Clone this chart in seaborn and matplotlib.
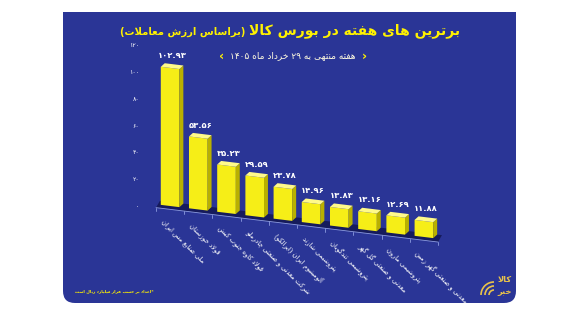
import re
import numpy as np
import pandas as pd
import matplotlib
matplotlib.use("Agg")
import matplotlib.pyplot as plt
import seaborn as sns
from matplotlib.patches import Polygon, FancyBboxPatch, Rectangle, Arc
from matplotlib.transforms import Affine2D, IdentityTransform
from matplotlib.lines import Line2D

# ---------------- data ----------------
companies = [
    "ملی صنایع مس ایران",
    "فولاد خوزستان",
    "فولاد کاوه جنوب کیش",
    "شرکت معدنی و صنعتی چادرملو",
    "آلومینیوم ایران (ایرالکو)",
    "پتروشیمی شازند",
    "پتروشیمی تندگویان",
    "معدنی و صنعتی گل گهر",
    "پتروشیمی مارون",
    "معدنی و صنعتی گهر زمین",
]
values = [102.93, 53.56, 35.23, 29.59, 23.78, 14.96, 13.83, 13.16, 12.69, 11.88]
y_ticks = [0, 20, 40, 60, 80, 100, 120]
title_main = "برترین های هفته در بورس کالا"
title_sub = "(براساس ارزش معاملات)"
subtitle = "هفته منتهی به ۲۹ خرداد ماه ۱۴۰۵"
footnote = "*اعداد بر حسب هزار میلیارد ریال است"
logo_top = "کالا"
logo_bottom = "خبر"

# ---------------- simple Arabic/Persian shaping for display ----------------
def _f(*cps):
    return tuple(chr(c) for c in cps)

FORMS = {
    'ا': _f(0xFE8D, 0xFE8E, 0xFE8D, 0xFE8E),
    'آ': _f(0xFE81, 0xFE82, 0xFE81, 0xFE82),
    'ب': _f(0xFE8F, 0xFE90, 0xFE91, 0xFE92),
    'پ': _f(0xFB56, 0xFB57, 0xFB58, 0xFB59),
    'ت': _f(0xFE95, 0xFE96, 0xFE97, 0xFE98),
    'ث': _f(0xFE99, 0xFE9A, 0xFE9B, 0xFE9C),
    'ج': _f(0xFE9D, 0xFE9E, 0xFE9F, 0xFEA0),
    'چ': _f(0xFB7A, 0xFB7B, 0xFB7C, 0xFB7D),
    'ح': _f(0xFEA1, 0xFEA2, 0xFEA3, 0xFEA4),
    'خ': _f(0xFEA5, 0xFEA6, 0xFEA7, 0xFEA8),
    'د': _f(0xFEA9, 0xFEAA, 0xFEA9, 0xFEAA),
    'ذ': _f(0xFEAB, 0xFEAC, 0xFEAB, 0xFEAC),
    'ر': _f(0xFEAD, 0xFEAE, 0xFEAD, 0xFEAE),
    'ز': _f(0xFEAF, 0xFEB0, 0xFEAF, 0xFEB0),
    'ژ': _f(0xFB8A, 0xFB8B, 0xFB8A, 0xFB8B),
    'س': _f(0xFEB1, 0xFEB2, 0xFEB3, 0xFEB4),
    'ش': _f(0xFEB5, 0xFEB6, 0xFEB7, 0xFEB8),
    'ص': _f(0xFEB9, 0xFEBA, 0xFEBB, 0xFEBC),
    'ض': _f(0xFEBD, 0xFEBE, 0xFEBF, 0xFEC0),
    'ط': _f(0xFEC1, 0xFEC2, 0xFEC3, 0xFEC4),
    'ظ': _f(0xFEC5, 0xFEC6, 0xFEC7, 0xFEC8),
    'ع': _f(0xFEC9, 0xFECA, 0xFECB, 0xFECC),
    'غ': _f(0xFECD, 0xFECE, 0xFECF, 0xFED0),
    'ف': _f(0xFED1, 0xFED2, 0xFED3, 0xFED4),
    'ق': _f(0xFED5, 0xFED6, 0xFED7, 0xFED8),
    'ک': _f(0xFB8E, 0xFB8F, 0xFB90, 0xFB91),
    'گ': _f(0xFB92, 0xFB93, 0xFB94, 0xFB95),
    'ل': _f(0xFEDD, 0xFEDE, 0xFEDF, 0xFEE0),
    'م': _f(0xFEE1, 0xFEE2, 0xFEE3, 0xFEE4),
    'ن': _f(0xFEE5, 0xFEE6, 0xFEE7, 0xFEE8),
    'و': _f(0xFEED, 0xFEEE, 0xFEED, 0xFEEE),
    'ه': _f(0xFEE9, 0xFEEA, 0xFEEB, 0xFEEC),
    'ی': _f(0xFBFC, 0xFBFD, 0xFBFE, 0xFBFF),
}
RIGHT_ONLY = set('اآدذرزژو')
LAM_ALEF = {'ا': (chr(0xFEFB), chr(0xFEFC)), 'آ': (chr(0xFEF5), chr(0xFEF6))}


def shape(text):
    chars = list(text)
    n = len(chars)
    res = []
    i = 0
    while i < n:
        c = chars[i]
        if c not in FORMS:
            res.append(c)
            i += 1
            continue
        prev = chars[i - 1] if i > 0 else None
        cp = prev is not None and prev in FORMS and prev not in RIGHT_ONLY
        if c == 'ل' and i + 1 < n and chars[i + 1] in LAM_ALEF:
            iso, fin = LAM_ALEF[chars[i + 1]]
            res.append(fin if cp else iso)
            i += 2
            continue
        nxt = chars[i + 1] if i + 1 < n else None
        cn = c not in RIGHT_ONLY and nxt is not None and nxt in FORMS
        iso, fin, ini, med = FORMS[c]
        if cp and cn:
            res.append(med)
        elif cp:
            res.append(fin)
        elif cn:
            res.append(ini)
        else:
            res.append(iso)
        i += 1
    s = ''.join(res)[::-1]
    s = s.translate(str.maketrans('()', ')('))
    s = re.sub(r'[0-9\u06F0-\u06F9.]+', lambda m: m.group(0)[::-1], s)
    return s


FA_DIG = str.maketrans('0123456789', '۰۱۲۳۴۵۶۷۸۹')


def fa(num, fmt):
    return format(num, fmt).translate(FA_DIG)

# ---------------- figure ----------------
W, H = 586, 309
sns.set_theme(style="white")
plt.rcParams['font.family'] = ['DejaVu Sans']
fig = plt.figure(figsize=(W / 100, H / 100), dpi=100)
fig.patch.set_facecolor('white')

BLUE = '#2A3596'
YELLOW = '#FFF200'
FRONT = '#F6EE17'
SIDE = '#B9B000'
TOP = '#FFFA8A'

# panel (square top corners, rounded bottom corners)
px0, px1, py0, py1 = 63, 516, 6, 297  # pixel coords, y from bottom
fig.patches.append(FancyBboxPatch((px0, py0), px1 - px0, py1 - py0,
                                  boxstyle="round,pad=0,rounding_size=12",
                                  transform=IdentityTransform(), facecolor=BLUE,
                                  edgecolor='none', zorder=-2))
fig.patches.append(Rectangle((px0, py0 + 40), px1 - px0, py1 - py0 - 40,
                             transform=IdentityTransform(), facecolor=BLUE,
                             edgecolor='none', zorder=-2))

ax = fig.add_axes([156 / W, 103 / H, 282 / W, 161 / H])
ax.patch.set_alpha(0)

df = pd.DataFrame({'company': companies, 'value': values})
sns.barplot(data=df, x='company', y='value', ax=ax, color=FRONT, saturation=1,
            width=0.66, errorbar=None, zorder=3)
ax.set_xlim(-0.5, len(companies) - 0.5)
ax.set_ylim(0, 120)
for s in ax.spines.values():
    s.set_visible(False)
ax.set_xticks([])
ax.set_xlabel('')
ax.set_ylabel('')
ax.set_yticks(y_ticks)
ax.set_yticklabels([fa(t, 'd') for t in y_ticks])
ax.tick_params(axis='y', colors='white', labelsize=4.5, length=0, pad=12)
ax.grid(False)

# perspective-like slant of the floor
pivot = ax.transData.transform((0, 0))[0]
slant = Affine2D().translate(-pivot, 0).skew(0, -np.arctan(0.122)).translate(pivot, 0)
tr = ax.transData + slant

dx, dy = 0.14, 3.0
n = len(companies)
bars = list(ax.patches)
# floor
floor = Polygon([(-0.5, -2.5), (n - 0.5, -2.5), (n - 0.5 + dx, dy), (-0.5 + dx, dy)],
                closed=True, transform=tr, facecolor='#161B5C', edgecolor='none',
                zorder=1, clip_on=False)
ax.add_patch(floor)
ax.add_line(Line2D([-0.5, n - 0.5], [-2.5, -2.5], transform=tr, color='#8C9BE0',
                   lw=0.6, zorder=2, clip_on=False))
for k in range(n + 1):
    ax.add_line(Line2D([k - 0.5, k - 0.5], [-2.5, -5.0], transform=tr,
                       color='#8C9BE0', lw=0.6, zorder=2, clip_on=False))

for p in bars:
    x0 = p.get_x()
    w = p.get_width()
    h = p.get_height()
    x1 = x0 + w
    p.set_transform(tr)
    p.set_clip_on(False)
    p.set_edgecolor('none')
    side = Polygon([(x1, 0), (x1, h), (x1 + dx, h + dy), (x1 + dx, dy)], closed=True,
                   transform=tr, facecolor=SIDE, edgecolor='none', zorder=3,
                   clip_on=False)
    top = Polygon([(x0, h), (x1, h), (x1 + dx, h + dy), (x0 + dx, h + dy)], closed=True,
                  transform=tr, facecolor=TOP, edgecolor='none', zorder=3,
                  clip_on=False)
    ax.add_patch(side)
    ax.add_patch(top)

for i, v in enumerate(values):
    ax.annotate(fa(v, '.2f'), xy=(i + dx / 2, v + dy), xycoords=tr,
                xytext=(0, 3), textcoords='offset points', ha='center', va='bottom',
                color='white', fontsize=6, fontweight='bold', annotation_clip=False)
    ax.annotate(shape(companies[i]), xy=(i - 0.2, -2.5), xycoords=tr,
                xytext=(0, -7), textcoords='offset points', ha='left', va='top',
                rotation=-45, rotation_mode='anchor', color='white', fontsize=4.8,
                annotation_clip=False)

# titles
renderer = fig.canvas.get_renderer()
t1 = fig.text(0, 1 - 31 / H, shape(title_main), color=YELLOW, fontsize=10,
              fontweight='bold', ha='left', va='center')
t2 = fig.text(0, 1 - 32 / H, shape(title_sub), color=YELLOW, fontsize=7.2,
              fontweight='bold', ha='left', va='center')
w1 = t1.get_window_extent(renderer).width
w2 = t2.get_window_extent(renderer).width
gap = 3
left = 290 - (w1 + w2 + gap) / 2
t2.set_x(left / W)
t1.set_x((left + w2 + gap) / W)

fig.text(293 / W, 1 - 56 / H, shape(subtitle), color='#FFFBE0', fontsize=6.5,
         ha='center', va='center')
fig.text(364 / W, 1 - 56 / H, '›', color=YELLOW, fontsize=9, fontweight='bold',
         ha='center', va='center')
fig.text(222 / W, 1 - 56 / H, '‹', color=YELLOW, fontsize=9, fontweight='bold',
         ha='center', va='center')

fig.text(75 / W, 1 - 291 / H, shape(footnote), color=YELLOW, fontsize=3.0,
         fontweight='bold', ha='left', va='center')

# logo
fig.text(505 / W, 1 - 280 / H, shape(logo_top), color='#E9C34A', fontsize=6,
         fontweight='bold', ha='center', va='center')
fig.text(505 / W, 1 - 292 / H, shape(logo_bottom), color='#E9C34A', fontsize=6,
         fontweight='bold', ha='center', va='center')
for r in (5, 9, 13):
    fig.patches.append(Arc((494, 14), r * 2, r * 2, theta1=90, theta2=180,
                           transform=IdentityTransform(), color='#E9C34A', lw=1.2,
                           zorder=5))

fig.savefig('out.png', dpi=100, facecolor='white')
